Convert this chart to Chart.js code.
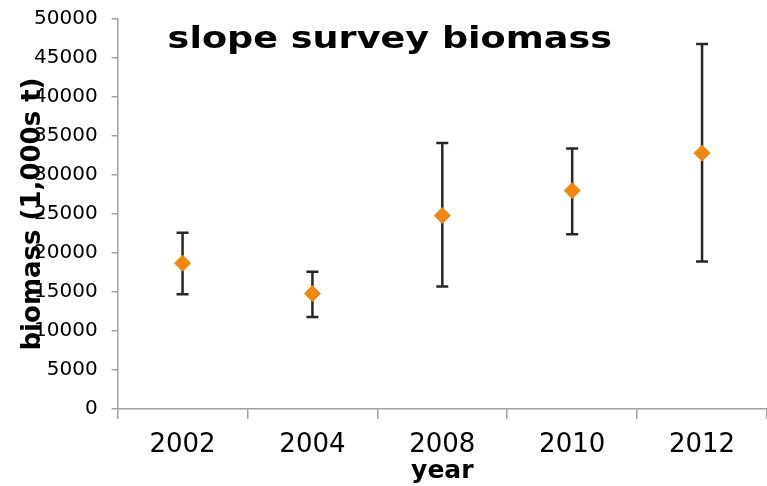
<!DOCTYPE html>
<html lang="en">
<head>
  <meta charset="UTF-8" />
  <title>slope survey biomass</title>
  <script src="https://cdn.jsdelivr.net/npm/chart.js"></script>
  <style>
    html, body {
      margin: 0;
      padding: 0;
      background: #fff;
    }
    .chart-container {
      position: relative;
      width: 767px;
      height: 486px;
    }
  </style>
</head>
<body>
  <div class="chart-container">
    <canvas id="biomassChart"></canvas>
  </div>

  <script>
    // values (1,000s t)
    const years = ["2002", "2004", "2008", "2010", "2012"];
    const biomass = [18700, 14800, 24800, 28000, 32800];
    const upperCI = [22600, 17600, 34100, 33400, 46800];
    const lowerCI = [14700, 11800, 15700, 22400, 18900];

    const chartTitle = "slope survey biomass";
    const yTitle = "biomass (1,000s t)";
    const xTitle = "year";

    const axisColor = "#a0a0a0";
    const fontFamily = "'DejaVu Sans', Verdana, sans-serif";

    // whiskers drawn under the diamonds, using the chart's own scales
    const errorBars = {
      id: "errorBars",
      beforeDatasetsDraw(chart) {
        const { ctx, scales: { x, y } } = chart;
        const cap = 6;
        ctx.save();
        ctx.strokeStyle = "#262626";
        ctx.lineWidth = 2.5;
        years.forEach((yr, i) => {
          const px = x.getPixelForValue(i);
          const top = y.getPixelForValue(upperCI[i]);
          const bot = y.getPixelForValue(lowerCI[i]);
          ctx.beginPath();
          ctx.moveTo(px, top);
          ctx.lineTo(px, bot);
          ctx.moveTo(px - cap, top);
          ctx.lineTo(px + cap, top);
          ctx.moveTo(px - cap, bot);
          ctx.lineTo(px + cap, bot);
          ctx.stroke();
        });
        ctx.restore();
      }
    };

    // title sits inside the plot, y title overlaps the tick labels like the original
    const overlayText = {
      id: "overlayText",
      afterDraw(chart) {
        const { ctx, chartArea } = chart;
        ctx.save();
        ctx.fillStyle = "#000";

        ctx.font = "bold 31px " + fontFamily;
        ctx.textBaseline = "alphabetic";
        ctx.textAlign = "left";
        ctx.translate(chartArea.left + 50, chartArea.top + 29);
        ctx.scale(1.18, 1);
        ctx.fillText(chartTitle, 0, 0);
        ctx.restore();

        ctx.save();
        ctx.fillStyle = "#000";
        ctx.font = "bold 26px " + fontFamily;
        ctx.textAlign = "center";
        ctx.textBaseline = "middle";
        ctx.translate(33, (chartArea.top + chartArea.bottom) / 2);
        ctx.rotate(-Math.PI / 2);
        ctx.fillText(yTitle, 0, 0);
        ctx.restore();
      }
    };

    const ctx = document.getElementById("biomassChart").getContext("2d");

    new Chart(ctx, {
      type: "line",
      data: {
        labels: years,
        datasets: [{
          label: "biomass",
          data: biomass,
          showLine: false,
          pointStyle: "rectRot",
          pointRadius: 8,
          pointHoverRadius: 8,
          pointBackgroundColor: "#f5860c",
          pointBorderColor: "#f5860c",
          pointBorderWidth: 1
        }]
      },
      options: {
        responsive: true,
        maintainAspectRatio: false,
        animation: false,
        layout: {
          autoPadding: false,
          padding: { left: 20, top: 0, right: 0, bottom: 2 }
        },
        plugins: {
          legend: { display: false },
          tooltip: { enabled: false },
          title: { display: false }
        },
        scales: {
          x: {
            offset: true,
            grid: {
              offset: true,
              drawOnChartArea: false,
              drawTicks: true,
              tickLength: 10,
              color: axisColor,
              lineWidth: 1.5
            },
            border: { color: axisColor, width: 1.5 },
            ticks: {
              color: "#000",
              padding: 13,
              font: { family: fontFamily, size: 26, lineHeight: 1 }
            },
            title: {
              display: true,
              text: xTitle,
              color: "#000",
              padding: { top: -12, bottom: 0 },
              font: { family: fontFamily, size: 25, weight: "bold", lineHeight: 1 }
            }
          },
          y: {
            min: 0,
            max: 50000,
            grid: {
              drawOnChartArea: false,
              drawTicks: true,
              tickLength: 6,
              color: axisColor,
              lineWidth: 1.5
            },
            border: { color: axisColor, width: 1.5 },
            ticks: {
              stepSize: 5000,
              color: "#000",
              padding: 14,
              font: { family: fontFamily, size: 20, lineHeight: 0.5 },
              callback: v => String(v)
            }
          }
        }
      },
      plugins: [errorBars, overlayText]
    });
  </script>
</body>
</html>
